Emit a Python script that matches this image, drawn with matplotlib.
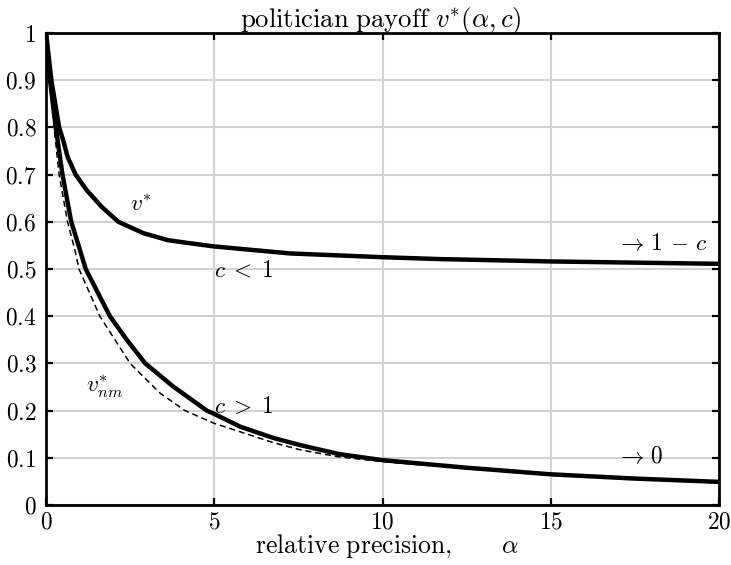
import matplotlib
matplotlib.use("Agg")
import matplotlib.pyplot as plt

plt.rcParams['mathtext.fontset'] = 'cm'
plt.rcParams['font.family'] = 'serif'
plt.rcParams['font.serif'] = ['DejaVu Serif']

# values
alpha_hi = [0, 0.16, 0.39, 0.51, 0.64, 0.88, 1.21, 1.65, 2.15, 2.89, 3.63, 4.13, 4.97, 7.25, 10.0, 11.7, 15, 20]
v_hi = [1.0, 0.9, 0.8, 0.773, 0.738, 0.7, 0.667, 0.632, 0.6, 0.576, 0.561, 0.556, 0.548, 0.533, 0.525, 0.521, 0.516, 0.511]

alpha_lo = [0, 0.12, 0.29, 0.49, 0.75, 1.01, 1.18, 1.55, 1.9, 2.4, 2.95, 3.78, 4.78, 5.0, 5.77, 6.76, 7.55, 8.7, 10, 12.5, 15, 17.5, 20]
v_lo = [1.0, 0.9, 0.8, 0.7, 0.6, 0.54, 0.5, 0.4485, 0.4, 0.35, 0.3, 0.251, 0.2, 0.193, 0.166, 0.142, 0.127, 0.108, 0.095, 0.079, 0.065, 0.056, 0.049]

alpha_nm = [0, 0.1, 0.24, 0.39, 0.64, 0.86, 0.98, 1.6, 2.5, 3.39, 4.13, 5.0, 6.76, 7.55, 8.7, 10, 12.5, 15, 20]
v_nm = [1.0, 0.9, 0.8, 0.7, 0.6, 0.54, 0.5, 0.4, 0.3, 0.237, 0.2, 0.173, 0.132, 0.117, 0.102, 0.092, 0.077, 0.063, 0.047]

x_ticks = [0, 5, 10, 15, 20]
y_ticks = [0, 0.1, 0.2, 0.3, 0.4, 0.5, 0.6, 0.7, 0.8, 0.9, 1]
y_labels = ['0', '0.1', '0.2', '0.3', '0.4', '0.5', '0.6', '0.7', '0.8', '0.9', '1']

fs = 16.8
fs_title = 19.2
fs_xlab = 18.5

W, H = 731, 565
fig = plt.figure(figsize=(W / 100, H / 100), dpi=100)
ax = fig.add_axes([46 / W, 60 / H, 673 / W, 472 / H])

ax.plot(alpha_nm, v_nm, color='black', lw=1.1, ls=(0, (4, 2.5)), zorder=3)
ax.plot(alpha_hi, v_hi, color='black', lw=3.2, solid_joinstyle='round', zorder=4)
ax.plot(alpha_lo, v_lo, color='black', lw=3.2, solid_joinstyle='round', zorder=4)

ax.set_xlim(0, 20)
ax.set_ylim(0, 1)
ax.set_xticks(x_ticks)
ax.set_xticklabels([f'${t}$' for t in x_ticks], fontsize=fs)
ax.set_yticks(y_ticks)
ax.set_yticklabels([f'${t}$' for t in y_labels], fontsize=fs)
ax.tick_params(direction='in', length=5, width=1.6, top=True, right=True, pad=7)
ax.tick_params(axis='x', pad=5)
ax.grid(True, color='#d2d2d2', lw=1.5)
ax.set_axisbelow(True)
for s in ax.spines.values():
    s.set_linewidth(2.0)

# title and x label placed by baseline, as in the reference
fig.text(381 / W, (H - 27) / H, r'$\mathrm{politician\ payoff}\ v^{*}(\alpha,c)$',
         fontsize=fs_title, ha='center', va='baseline')
fig.text(387 / W, (H - 553) / H, r'$\mathrm{relative\ precision,}\qquad\alpha$',
         fontsize=fs_xlab, ha='center', va='baseline')

ax.text(2.5, 0.635, r'$v^{*}$', fontsize=fs, va='center', ha='left')
ax.text(5.0, 0.497, r'$c\;<\;1$', fontsize=fs, va='center', ha='left')
ax.text(5.0, 0.208, r'$c\;>\;1$', fontsize=fs, va='center', ha='left')
ax.text(1.2, 0.25, r'$v^{*}_{nm}$', fontsize=fs, va='center', ha='left')
ax.text(16.95, 0.552, r'$\rightarrow\,1\,-\,c$', fontsize=fs, va='center', ha='left')
ax.text(16.95, 0.102, r'$\rightarrow\,0$', fontsize=fs, va='center', ha='left')

fig.savefig('out.png', dpi=100)
